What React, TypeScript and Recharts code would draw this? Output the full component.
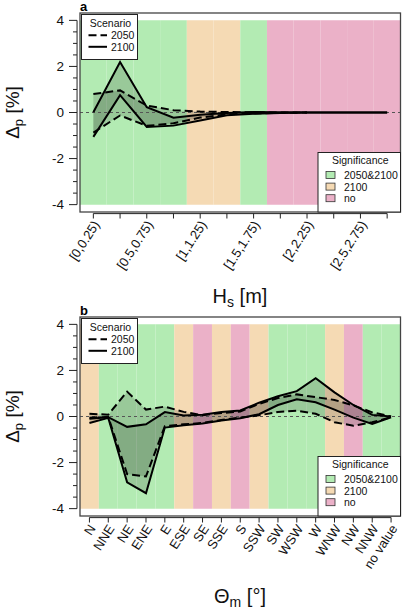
import React from 'react';
import { ComposedChart, Line, Area, XAxis, YAxis, ReferenceArea, ReferenceLine } from 'recharts';

// ---------- Panel a: significant wave height classes ----------
const hsCategories = ['[0,0.25)', '[0.25,0.5)', '[0.5,0.75)', '[0.75,1)', '[1,1.25)', '[1.25,1.5)', '[1.5,1.75)', '[1.75,2)', '[2,2.25)', '[2.25,2.5)', '[2.5,2.75)', '[2.75,3)'];
const hsUpper2100 = [0.01, 2.19, 0.23, -0.23, -0.1, -0.02, 0.02, 0.01, 0, 0, 0, 0];
const hsLower2100 = [-1.06, 0.75, -0.63, -0.57, -0.35, -0.12, -0.05, -0.02, 0, 0, 0, 0];
const hsUpper2050 = [0.8, 0.96, 0.3, 0.1, 0.04, 0.02, 0.01, 0, 0, null, null, null];
const hsLower2050 = [-0.87, -0.13, -0.58, -0.47, -0.22, -0.08, -0.04, -0.02, 0, null, null, null];
const hsSignificance = ['both', 'both', 'both', 'both', '2100', '2100', 'both', 'no', 'no', 'no', 'no', 'no'];

// ---------- Panel b: mean wave direction classes ----------
const dirCategories = ['N', 'NNE', 'NE', 'ENE', 'E', 'ESE', 'SE', 'SSE', 'S', 'SSW', 'SW', 'WSW', 'W', 'WNW', 'NW', 'NNW', 'no value'];
const dirUpper2100 = [-0.1, -0.03, -0.45, -0.34, 0.19, 0.04, 0.08, 0.2, 0.26, 0.6, 0.88, 1.1, 1.66, 1.05, 0.5, 0.07, 0.0];
const dirLower2100 = [-0.28, -0.06, -2.86, -3.33, -0.48, -0.38, -0.3, -0.17, -0.08, 0.1, 0.5, 0.75, 0.62, 0.3, -0.05, -0.32, -0.03];
const dirUpper2050 = [0.12, 0.08, 1.08, 0.3, 0.43, 0.2, 0.06, 0.15, 0.22, 0.55, 0.8, 0.96, 0.84, 0.72, 0.48, 0.18, 0.0];
const dirLower2050 = [-0.05, -0.02, -2.5, -2.6, -0.42, -0.34, -0.28, -0.15, -0.05, 0.05, 0.2, 0.25, 0.12, -0.25, -0.4, -0.25, -0.03];
const dirSignificance = ['2100', 'both', 'both', 'both', 'both', '2100', 'no', '2100', 'no', '2100', 'both', 'both', 'both', '2100', 'no', 'both', 'both'];

const yTicks = [-4, -3.5, -3, -2.5, -2, -1.5, -1, -0.5, 0, 0.5, 1, 1.5, 2, 2.5, 3, 3.5, 4];
const yLabelled = [-4, -2, 0, 2, 4];
const yDomain = [-4.32, 4.32];
const shadeRange = [-4, 4];

const sigColors: Record<string, string> = { both: '#B3EBB3', '2100': '#F5DAB4', no: '#EBB1C8' };
const sigLegend = [
  { key: 'both', label: '2050&2100' },
  { key: '2100', label: '2100' },
  { key: 'no', label: 'no' },
];

const FONT = '"Liberation Sans", Arial, Helvetica, sans-serif';

const buildData = (cats: string[], u21: number[], l21: number[], u50: (number | null)[], l50: (number | null)[]) =>
  cats.map((c, i) => ({ i, cat: c, u21: u21[i], l21: l21[i], u50: u50[i], l50: l50[i] }));

const hsData = buildData(hsCategories, hsUpper2100, hsLower2100, hsUpper2050, hsLower2050);
const dirData = buildData(dirCategories, dirUpper2100, dirLower2100, dirUpper2050, dirLower2050);

const YTick = (props: any) => {
  const { x, y, payload } = props;
  const v = payload.value;
  const major = yLabelled.includes(v);
  const ax = x - 3;
  return (
    <g>
      <line x1={ax} x2={ax - (major ? 8 : 4)} y1={y} y2={y} stroke="#222" strokeWidth={1} />
      {major && (
        <text x={x - 16} y={y} dy="0.36em" textAnchor="end" fontSize={13.5} fontFamily={FONT} fill="#111">
          {v}
        </text>
      )}
    </g>
  );
};

const makeXTick = (labels: string[], every: number) => (props: any) => {
  const { x, y, payload } = props;
  const i = payload.value;
  const show = i % every === 0;
  const tx = x + 3;
  const ty = y + 10;
  return (
    <g key={`t${i}`}>
      <line x1={x} x2={x} y1={y + 1.5} y2={y + 6.5} stroke="#222" strokeWidth={1} />
      {show && (
        <text x={tx} y={ty} dy="0.35em" textAnchor="end" fontSize={13} fontFamily={FONT} fill="#111" transform={`rotate(-57, ${tx}, ${ty})`}>
          {labels[i]}
        </text>
      )}
    </g>
  );
};

type PanelProps = {
  data: any[];
  cats: string[];
  sig: string[];
  every: number;
  height: number;
  top: number;
  bottom: number;
  axisOffset: number;
};

const Panel = ({ data, cats, sig, every, height, top, bottom, axisOffset }: PanelProps) => {
  const n = cats.length;
  return (
    <ComposedChart width={402} height={height} data={data} margin={{ top, right: 1.5, bottom, left: 0 }}>
      <XAxis
        type="number"
        dataKey="i"
        domain={[-0.5, n - 0.5]}
        ticks={cats.map((_, i) => i)}
        interval={0}
        allowDataOverflow
        height={1}
        tickSize={0}
        tickMargin={0}
        axisLine={false}
        tickLine={false}
        tick={makeXTick(cats, every)}
      />
      <YAxis
        type="number"
        domain={yDomain}
        ticks={yTicks}
        interval={0}
        allowDataOverflow
        width={80}
        tickSize={0}
        tickMargin={0}
        axisLine={false}
        tickLine={false}
        tick={(p: any) => <YTick {...p} />}
      />
      {sig.map((s, i) => (
        <ReferenceArea key={`bg${i}`} x1={i - 0.5} x2={i + 0.5} y1={shadeRange[0]} y2={shadeRange[1]} fill={sigColors[s]} fillOpacity={1} stroke="none" ifOverflow="hidden" />
      ))}
      <ReferenceLine
        segment={[{ x: -0.5 - axisOffset, y: shadeRange[0] }, { x: -0.5 - axisOffset, y: shadeRange[1] }]}
        stroke="#222"
        strokeWidth={1}
        ifOverflow="visible"
      />
      <ReferenceLine
        segment={[{ x: 0, y: -4.39 }, { x: n - 1, y: -4.39 }]}
        stroke="#222"
        strokeWidth={1}
        ifOverflow="visible"
      />
      <ReferenceLine y={0} stroke="#555" strokeWidth={1} strokeDasharray="3 3" />
      <Area
        type="linear"
        dataKey={(d: any) => (d.u50 == null ? null : [d.l50, d.u50])}
        fill="#000"
        fillOpacity={0.14}
        stroke="none"
        isAnimationActive={false}
        connectNulls={false}
      />
      <Area
        type="linear"
        dataKey={(d: any) => [d.l21, d.u21]}
        fill="#000"
        fillOpacity={0.14}
        stroke="none"
        isAnimationActive={false}
      />
      <Line type="linear" dataKey="u50" stroke="#000" strokeWidth={2} strokeDasharray="8 4" dot={false} isAnimationActive={false} />
      <Line type="linear" dataKey="l50" stroke="#000" strokeWidth={2} strokeDasharray="8 4" dot={false} isAnimationActive={false} />
      <Line type="linear" dataKey="u21" stroke="#000" strokeWidth={2} dot={false} isAnimationActive={false} />
      <Line type="linear" dataKey="l21" stroke="#000" strokeWidth={2} dot={false} isAnimationActive={false} />
    </ComposedChart>
  );
};

const PLOT_L = 80;
const PLOT_R = 400.5;
const PLOT_H = 199;

const Decor = ({ frameTop, letter, xTitle, xSub, xRest, titleY }: any) => {
  const frameBottom = frameTop + PLOT_H;
  const cy = frameTop + PLOT_H / 2;
  const sx = 81.5;
  const sy = frameTop + 1.5;
  const gx = 318;
  const gy = frameBottom - 59.5;
  return (
    <g fontFamily={FONT}>
      <text x={80} y={frameTop - 2} fontSize={13} fontWeight="bold" fill="#000">{letter}</text>
      <rect x={PLOT_L} y={frameTop} width={PLOT_R - PLOT_L} height={PLOT_H} fill="none" stroke="#444" strokeWidth={1.3} />
      {/* Scenario legend */}
      <rect x={sx} y={sy} width={56} height={45} fill="#fff" stroke="#222" strokeWidth={1} />
      <text x={sx + 29} y={frameTop + 14} fontSize={10.5} textAnchor="middle" fill="#111">Scenario</text>
      <line x1={88.5} x2={107} y1={frameTop + 22.3} y2={frameTop + 22.3} stroke="#000" strokeWidth={2} strokeDasharray="8 4" />
      <text x={111} y={frameTop + 26} fontSize={10.5} fill="#111">2050</text>
      <line x1={88.5} x2={107} y1={frameTop + 33.8} y2={frameTop + 33.8} stroke="#000" strokeWidth={2} />
      <text x={111} y={frameTop + 37.5} fontSize={10.5} fill="#111">2100</text>
      {/* Significance legend */}
      <rect x={gx} y={gy} width={PLOT_R - gx} height={frameBottom - gy} fill="#fff" stroke="#222" strokeWidth={1} />
      <text x={(gx + PLOT_R) / 2 + 1} y={frameBottom - 48} fontSize={10.5} textAnchor="middle" fill="#111">Significance</text>
      {sigLegend.map((s, k) => {
        const by = frameBottom - 33 + k * 11.6;
        return (
          <g key={s.key}>
            <rect x={326} y={by - 7.5} width={9} height={7} fill={sigColors[s.key]} stroke="#333" strokeWidth={0.8} />
            <text x={344} y={by} fontSize={10.5} fill="#111">{s.label}</text>
          </g>
        );
      })}
      {/* y title */}
      <text transform={`translate(19, ${cy}) rotate(-90)`} textAnchor="middle" fontSize={19} fill="#111">
        Δ<tspan fontSize={13} dy={4}>p</tspan>
        <tspan dy={-4}> [%]</tspan>
      </text>
      {/* x title */}
      <text x={240} y={titleY} textAnchor="middle" fontSize={20} fill="#111">
        {xTitle}
        <tspan fontSize={14} dy={4}>{xSub}</tspan>
        <tspan dy={-4}>{xRest}</tspan>
      </text>
    </g>
  );
};

export default function App() {
  return (
    <div style={{ position: 'absolute', left: 0, top: 0, width: 402, height: 609, background: '#fff', overflow: 'hidden' }}>
      <div style={{ position: 'absolute', left: 0, top: 0 }}>
        <Panel data={hsData} cats={hsCategories} sig={hsSignificance} every={2} height={300} top={13} bottom={300 - 13 - PLOT_H - 1} axisOffset={0.11} />
      </div>
      <div style={{ position: 'absolute', left: 0, top: 300 }}>
        <Panel data={dirData} cats={dirCategories} sig={dirSignificance} every={1} height={309} top={17} bottom={309 - 17 - PLOT_H - 1} axisOffset={0.16} />
      </div>
      <svg width={402} height={609} style={{ position: 'absolute', left: 0, top: 0, pointerEvents: 'none' }}>
        <Decor frameTop={13} letter="a" xTitle="H" xSub="s" xRest=" [m]" titleY={303} />
        <Decor frameTop={317} letter="b" xTitle="Θ" xSub="m" xRest=" [°]" titleY={603} />
      </svg>
    </div>
  );
}
